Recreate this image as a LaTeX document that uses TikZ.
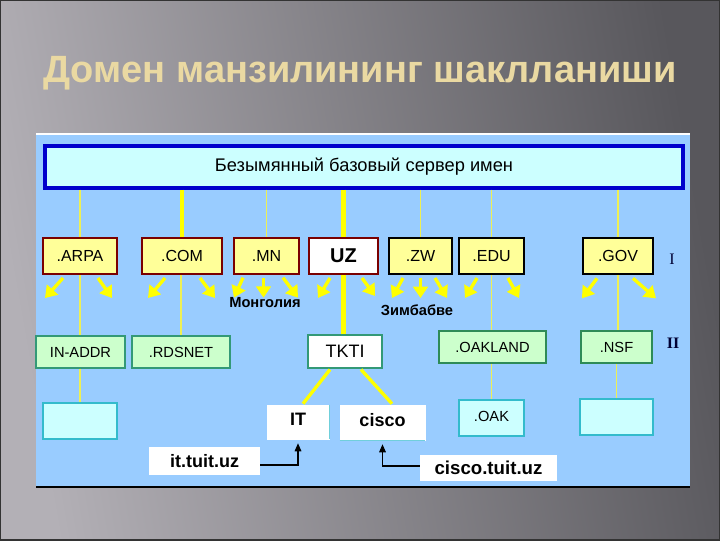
\documentclass[tikz,border=0pt]{standalone}
\usepackage{fontspec}
\setmainfont{Liberation Sans}
\newfontfamily\serifx{Liberation Serif}
\usetikzlibrary{arrows.meta,calc}
\definecolor{bgL}{HTML}{B3B0B6}
\definecolor{bgR}{HTML}{58575C}
\definecolor{panel}{HTML}{99CCFF}
\definecolor{topfill}{HTML}{CCFFFF}
\definecolor{topline}{HTML}{0000CC}
\definecolor{lvlA}{HTML}{FFFF99}
\definecolor{brown}{HTML}{7A0000}
\definecolor{greenfill}{HTML}{CCFFCC}
\definecolor{greenline}{HTML}{339977}
\definecolor{darkgreen}{HTML}{2E8B57}
\definecolor{cyanline}{HTML}{33BBCC}
\definecolor{yel}{HTML}{FFFF00}
\definecolor{yelthin}{HTML}{EEF055}
\definecolor{titlecol}{HTML}{EAD9A2}
\definecolor{navy}{HTML}{000033}
\begin{document}
\begin{tikzpicture}[x=0.75pt,y=-0.75pt,
  bx/.style={rectangle, draw, inner sep=0pt, anchor=center},
  lvlone/.style={bx, fill=lvlA, line width=1.5pt, font=\fontsize{12}{13}\selectfont},
  lvltwo/.style={bx, fill=greenfill, draw=greenline, line width=1pt, font=\fontsize{11}{12}\selectfont},
  lvlthree/.style={bx, fill=topfill, draw=cyanline, line width=1.5pt, font=\fontsize{11}{12}\selectfont},
  whitebox/.style={bx, fill=white, draw=greenline, line width=0.8pt},
  thickline/.style={yel, line width=3.5pt},
  thinline/.style={yelthin, line width=1.3pt},
  yarrow/.style={yel, line width=2.5pt, -{Triangle[length=8.5pt,width=11pt]}},
  barrow/.style={black, line width=0.8pt, -{Triangle[length=6pt,width=5pt]}},
  captext/.style={font=\bfseries\fontsize{11}{12}\selectfont}
]
\useasboundingbox (0,0) rectangle (720,540);
\shade[left color=bgL, right color=bgR, shading angle=100] (0,0) rectangle (720,540);
\draw[black!80, line width=1.5pt] (0,0) rectangle (720,540);
\node[font=\bfseries\fontsize{28.5}{32}\selectfont, text=titlecol] (title) at (360,73) {Домен манзилининг шаклланиши};
% panel
\fill[panel] (36,134) rectangle (690,488);
\draw[white, line width=1.5pt] (36,134) -- (690,134);
\draw[black, line width=1pt] (36,487) -- (690,487);
% top box
\node[bx, fill=topfill, draw=topline, line width=2.5pt, minimum width=478.5pt, minimum height=31.5pt, font=\fontsize{13.7}{15}\selectfont] (top) at (364,167) {Безымянный базовый сервер имен};
% level 1
\node[lvlone, draw=brown, minimum width=55.5pt, minimum height=27pt] (arpa) at (80,256) {.ARPA};
\node[lvlone, draw=brown, minimum width=60pt, minimum height=27pt] (com) at (182,256) {.COM};
\node[lvlone, draw=brown, line width=1pt, minimum width=48.75pt, minimum height=27pt] (mn) at (266.5,256) {.MN};
\node[bx, fill=white, draw=brown, line width=1.5pt, minimum width=51.75pt, minimum height=27pt, font=\bfseries\fontsize{15}{16}\selectfont] (uz) at (343.5,256) {UZ};
\node[lvlone, draw=black, minimum width=47.25pt, minimum height=27pt] (zw) at (420.5,256) {.ZW};
\node[lvlone, draw=black, minimum width=48.75pt, minimum height=27pt] (edu) at (491.5,256) {.EDU};
\node[lvlone, draw=black, line width=2pt, minimum width=52.5pt, minimum height=27pt] (gov) at (618,256) {.GOV};
\node[font=\serifx\fontsize{12}{14}\selectfont, text=navy] (lI) at (672,259) {I};
% level 2
\node[lvltwo, minimum width=66.75pt, minimum height=24pt] (inaddr) at (80.5,352) {IN-ADDR};
\node[lvltwo, minimum width=73.5pt, minimum height=24pt] (rdsnet) at (181,352) {.RDSNET};
\node[whitebox, minimum width=55.5pt, minimum height=24.75pt, font=\fontsize{13.5}{14}\selectfont] (tkti) at (345,351.5) {TKTI};
\node[lvltwo, draw=darkgreen, line width=2pt, minimum width=80.25pt, minimum height=24pt] (oakland) at (492.5,347) {.OAKLAND};
\node[lvltwo, draw=darkgreen, line width=2pt, minimum width=53.25pt, minimum height=24pt] (nsf) at (616.5,347) {.NSF};
\node[font=\serifx\bfseries\fontsize{12}{14}\selectfont, text=navy] (lII) at (673,343) {II};
% level 3
\node[lvlthree, minimum width=55.5pt, minimum height=27pt] (e1) at (80,421) {};
\node[bx, fill=white, draw=white, minimum width=46.5pt, minimum height=25.5pt, font=\bfseries\fontsize{13.5}{14}\selectfont] (it) at (298,422) {\raisebox{4pt}{IT}\hspace{10pt}};
\node[bx, fill=white, draw=white, minimum width=63.75pt, minimum height=26.25pt, font=\bfseries\fontsize{13.5}{14}\selectfont] (cisco) at (382.5,422.5) {\raisebox{4pt}{cisco}\hspace{3pt}};
\draw[cyanline!70, line width=1pt] (it.north east) -- (it.south east);
\draw[cyanline!70, line width=1pt] (cisco.south west) -- (cisco.south east);
\node[lvlthree, line width=1pt, minimum width=48.75pt, minimum height=27pt] (oak) at (491.5,418) {\raisebox{2pt}{.OAK}};
\node[lvlthree, minimum width=54.75pt, minimum height=27pt] (e2) at (616.5,417) {};
% labels
\node[bx, fill=white, draw=none, minimum width=83.25pt, minimum height=21pt, font=\bfseries\fontsize{13.5}{14}\selectfont] (ittuit) at (204.5,461) {it.tuit.uz};
\node[bx, fill=white, draw=none, minimum width=102.75pt, minimum height=19.5pt, font=\bfseries\fontsize{14}{15}\selectfont] (ciscotuit) at (488.5,468) {cisco.tuit.uz\hspace{10pt}};
% connectors
\draw[thinline] (top.south -| arpa.north) -- (arpa.north);
\draw[thinline] (arpa.south) -- (inaddr.north -| arpa.south);
\draw[thinline] (inaddr.south -| e1.north) -- (e1.north);
\draw[thickline] (top.south -| com.north) -- (com.north);
\draw[thinline] (com.south -| rdsnet.north) -- (rdsnet.north);
\draw[thinline] (top.south -| mn.north) -- (mn.north);
\draw[thickline] (top.south -| uz.north) -- (uz.north);
\draw[thickline] (uz.south) -- (tkti.north -| uz.south);
\draw[thinline] (top.south -| zw.north) -- (zw.north);
\draw[thinline] (top.south -| edu.north) -- (edu.north);
\draw[thinline] (edu.south) -- (oakland.north -| edu.south);
\draw[thinline] (oakland.south -| oak.north) -- (oak.north);
\draw[thinline] (top.south -| gov.north) -- (gov.north);
\draw[thinline] (gov.south) -- (nsf.north -| gov.south);
\draw[thinline] (nsf.south -| e2.north) -- (e2.north);
\draw[yel, line width=2.5pt] ($(tkti.south)+(-15,1)$) -- ($(it.north)+(5,-1)$);
\draw[yel, line width=2.5pt] ($(tkti.south)+(16,1)$) -- ($(cisco.north)+(9.5,-1)$);
% yellow arrows
\foreach \n/\a/\b/\c/\d in {arpa/-17/-35/18/32, com/-17/-34/18/33, edu/-14.5/-26.5/16.5/27.5, gov/-21/-36/15/38}{
  \draw[yarrow] ($(\n.south)+(\a,3)$) -- ($(\n.south)+(\b,23)$);
  \draw[yarrow] ($(\n.south)+(\c,3)$) -- ($(\n.south)+(\d,23)$);
}
\draw[yarrow] ($(mn.south)+(-23.5,3)$) -- ($(mn.south)+(-32.5,23)$);
\draw[yarrow] ($(mn.south)+(-3,3)$) -- ($(mn.south)+(-3,23)$);
\draw[yarrow] ($(mn.south)+(16.5,3)$) -- ($(mn.south)+(31.5,23)$);
\draw[yarrow] ($(uz.south)+(-13.5,3)$) -- ($(uz.south)+(-25.5,23)$);
\draw[yarrow] ($(uz.south)+(18.5,3)$) -- ($(uz.south)+(31.5,21)$);
\draw[yarrow] ($(zw.south)+(-17.5,3)$) -- ($(zw.south)+(-28.5,23)$);
\draw[yarrow] ($(zw.south)+(0,3)$) -- ($(zw.south)+(0,23)$);
\draw[yarrow] ($(zw.south)+(14.5,3)$) -- ($(zw.south)+(26.5,23)$);
\node[captext] (mong) at (265,303) {Монголия};
\node[captext] (zimb) at (417,310) {Зимбабве};
% black arrows
\draw[barrow] ([yshift=-3pt]ittuit.east) -| ([yshift=-3pt]it.south);
\draw[barrow] ([yshift=1.5pt]ciscotuit.west) -| ([yshift=-3pt]cisco.south);
\end{tikzpicture}
\end{document}
